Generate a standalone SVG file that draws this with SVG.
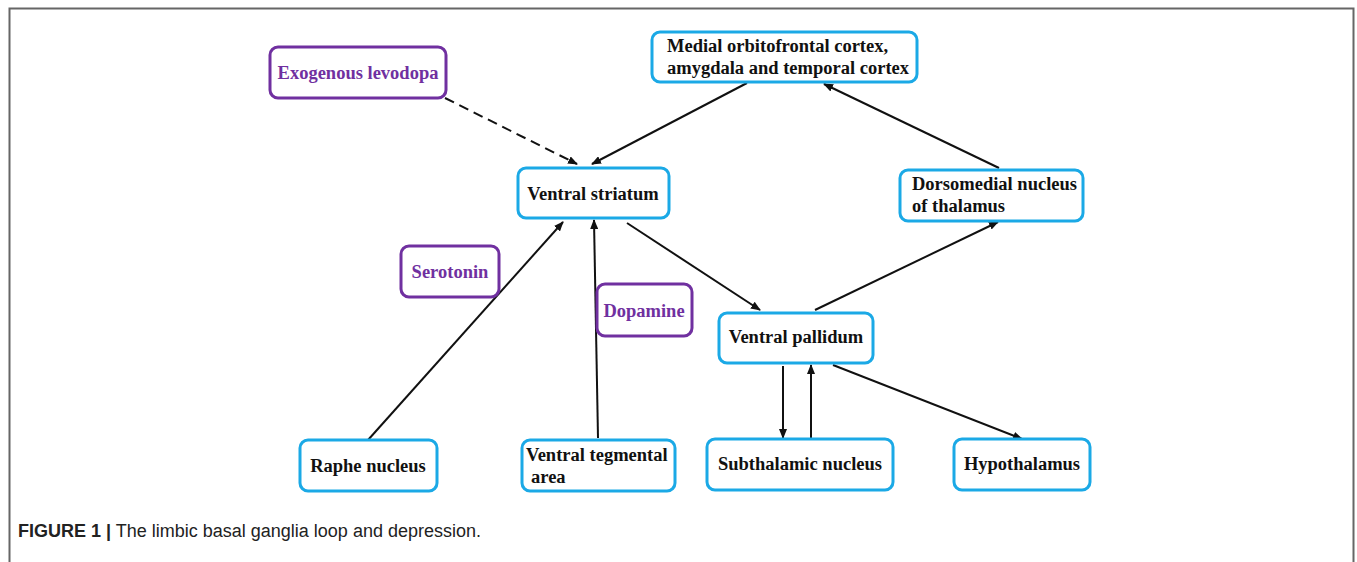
<svg xmlns="http://www.w3.org/2000/svg" width="1357" height="562" viewBox="0 0 1357 562">
<style>
.b{fill:#fff;stroke:#1BA9E6;stroke-width:3}
.p{fill:#fff;stroke:#7030A0;stroke-width:3}
.t{font-family:"Liberation Serif","Times New Roman",serif;font-weight:bold;font-size:18.5px;fill:#111}
.tp{font-family:"Liberation Serif","Times New Roman",serif;font-weight:bold;font-size:18.5px;fill:#7030A0}
.c{stroke:#111;stroke-width:2;fill:none;marker-end:url(#ah)}
.d{stroke-dasharray:10 6}
.cap{font-family:"Liberation Sans",Arial,sans-serif;font-size:18px;fill:#222}
</style>
<defs>
<marker id="ah" markerWidth="10" markerHeight="8" refX="9" refY="4" orient="auto" markerUnits="userSpaceOnUse">
<path d="M0,0 L10,4 L0,8 z" fill="#111"/>
</marker>
</defs>
<rect width="1357" height="562" fill="#fff"/>
<path d="M9.5,562 V8.5 H1353.5 V562" fill="none" stroke="#666" stroke-width="2"/>
<g id="connectors">
<line class="c d" x1="445" y1="98" x2="577" y2="164"/>
<line class="c" x1="747" y1="83" x2="592" y2="164"/>
<line class="c" x1="999" y1="168" x2="824" y2="84"/>
<line class="c" x1="815" y1="310" x2="998" y2="222"/>
<line class="c" x1="627" y1="223" x2="760" y2="310"/>
<line class="c" x1="368" y1="440" x2="563" y2="222"/>
<line class="c" x1="598" y1="438" x2="594" y2="220"/>
<line class="c" x1="783" y1="366" x2="783" y2="438"/>
<line class="c" x1="811" y1="438" x2="811" y2="365"/>
<line class="c" x1="833" y1="365" x2="1022" y2="439"/>
</g>
<g id="levodopa"><rect class="p" x="270" y="47" width="176" height="51" rx="8"/><text class="tp" x="358" y="79" text-anchor="middle">Exogenous levodopa</text></g>
<g id="cortex"><rect class="b" x="652" y="32" width="265" height="50" rx="8"/><text class="t" x="667" y="52">Medial orbitofrontal cortex,</text><text class="t" x="667" y="74">amygdala and temporal cortex</text></g>
<g id="striatum"><rect class="b" x="518" y="168" width="151" height="50" rx="8"/><text class="t" x="593" y="200" text-anchor="middle">Ventral striatum</text></g>
<g id="dorsomedial"><rect class="b" x="900" y="170" width="183" height="51" rx="8"/><text class="t" x="912" y="190">Dorsomedial nucleus</text><text class="t" x="912" y="212">of thalamus</text></g>
<g id="serotonin"><rect class="p" x="401" y="246" width="98" height="51" rx="8"/><text class="tp" x="450" y="278" text-anchor="middle">Serotonin</text></g>
<g id="dopamine"><rect class="p" x="597" y="284" width="95" height="52" rx="8"/><text class="tp" x="644" y="317" text-anchor="middle">Dopamine</text></g>
<g id="pallidum"><rect class="b" x="719" y="313" width="154" height="50" rx="8"/><text class="t" x="796" y="343" text-anchor="middle">Ventral pallidum</text></g>
<g id="raphe"><rect class="b" x="300" y="440" width="137" height="51" rx="8"/><text class="t" x="368" y="472" text-anchor="middle">Raphe nucleus</text></g>
<g id="vta"><rect class="b" x="522" y="440" width="153" height="51" rx="8"/><text class="t" x="526" y="461">Ventral tegmental</text><text class="t" x="531" y="483">area</text></g>
<g id="subthalamic"><rect class="b" x="707" y="439" width="186" height="51" rx="8"/><text class="t" x="800" y="470" text-anchor="middle">Subthalamic nucleus</text></g>
<g id="hypothalamus"><rect class="b" x="954" y="439" width="136" height="51" rx="8"/><text class="t" x="1022" y="470" text-anchor="middle">Hypothalamus</text></g>
<text class="cap" x="18" y="537"><tspan font-weight="bold">FIGURE 1 |</tspan> The limbic basal ganglia loop and depression.</text>
</svg>
